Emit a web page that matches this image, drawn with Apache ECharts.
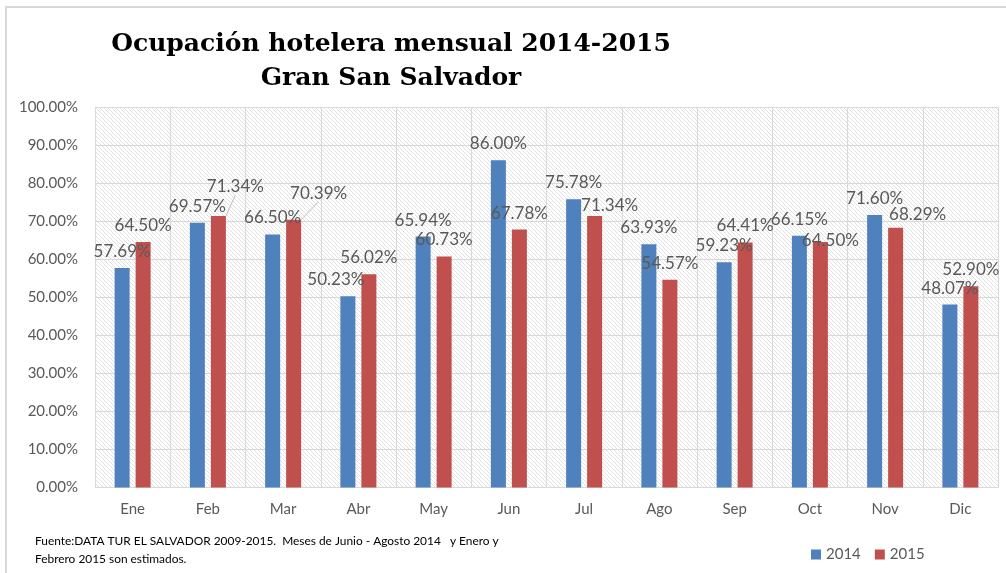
<!DOCTYPE html>
<html>
<head>
<meta charset="utf-8">
<script src="https://cdn.jsdelivr.net/npm/echarts@6/dist/echarts.min.js"></script>
<style>
  html, body { margin: 0; padding: 0; background: #fff; }
  #chart { width: 1006px; height: 573px; }
</style>
</head>
<body>
<div id="chart"></div>
<script>
// datos
const meses = ["Ene", "Feb", "Mar", "Abr", "May", "Jun", "Jul", "Ago", "Sep", "Oct", "Nov", "Dic"];
const ocup2014 = [57.69, 69.57, 66.50, 50.23, 65.94, 86.00, 75.78, 63.93, 59.23, 66.15, 71.60, 48.07];
const ocup2015 = [64.50, 71.34, 70.39, 56.02, 60.73, 67.78, 71.34, 54.57, 64.41, 64.50, 68.29, 52.90];
const ticksY = [0, 10, 20, 30, 40, 50, 60, 70, 80, 90, 100];

// etiquetas movidas a mano (como en Excel)
const mover2014 = { 3: [-12, 0] };
const mover2015 = { 1: [17, -13], 2: [25, -10], 6: [15, 6], 9: [10, 15], 10: [22, 3] };
const conGuia2015 = [1, 2];

// patron de rayas del fondo
const tile = document.createElement("canvas");
tile.width = 4;
tile.height = 4;
const tctx = tile.getContext("2d");
tctx.fillStyle = "#fff";
tctx.fillRect(0, 0, 4, 4);
tctx.fillStyle = "rgba(180,180,180,0.4)";
for (let i = 0; i < 4; i++) tctx.fillRect(i, i, 1, 1);

const chart = echarts.init(document.getElementById("chart"));

const gris = "#595959";
const fuente = "Lato";

const etiqueta = {
  show: true,
  position: "top",
  distance: 8,
  color: gris,
  fontFamily: fuente,
  fontSize: 17,
  formatter: (p) => p.value.toFixed(2) + "%"
};

const mover = (tabla) => (params) => {
  const m = tabla[params.dataIndex];
  return m ? { dx: m[0], dy: m[1] } : {};
};

const option = {
  animation: false,
  backgroundColor: "#fff",
  title: [
    {
      text: "Ocupación hotelera mensual 2014-2015\nGran San Salvador",
      left: 386,
      top: 22,
      textAlign: "center",
      textStyle: {
        fontFamily: "DejaVu Serif",
        fontWeight: "bold",
        fontSize: 25,
        lineHeight: 34,
        color: "#000"
      }
    },
    {
      text: "Fuente:DATA TUR EL SALVADOR 2009-2015.  Meses de Junio - Agosto 2014   y Enero y\nFebrero 2015 son estimados.",
      left: 35,
      top: 532,
      padding: 0,
      textStyle: {
        fontFamily: fuente,
        fontWeight: "normal",
        fontSize: 11.9,
        lineHeight: 18,
        color: "#000"
      }
    }
  ],
  graphic: [
    {
      type: "rect",
      silent: true,
      shape: { x: 6, y: 7, width: 1010, height: 580 },
      style: { fill: "none", stroke: "#d9d9d9", lineWidth: 2 }
    }
  ],
  legend: {
    left: 806,
    top: 542,
    itemWidth: 10,
    itemHeight: 10,
    itemGap: 14,
    icon: "rect",
    textStyle: { color: gris, fontFamily: fuente, fontSize: 15 },
    data: ["2014", "2015"]
  },
  grid: {
    left: 95,
    right: 8,
    top: 107,
    bottom: 85.5,
    show: true,
    borderWidth: 0,
    backgroundColor: { image: tile, repeat: "repeat" }
  },
  xAxis: {
    type: "category",
    data: meses,
    axisTick: { show: false },
    axisLine: { lineStyle: { color: "#d9d9d9" } },
    axisLabel: { color: gris, fontFamily: fuente, fontSize: 15, margin: 14 },
    splitLine: { show: true, lineStyle: { color: "#d9d9d9" } }
  },
  yAxis: {
    type: "value",
    min: ticksY[0],
    max: ticksY[ticksY.length - 1],
    interval: 10,
    axisLine: { show: false },
    axisTick: { show: false },
    axisLabel: {
      color: gris,
      fontFamily: fuente,
      fontSize: 15,
      margin: 17,
      formatter: (v) => v.toFixed(2) + "%"
    },
    splitLine: { lineStyle: { color: "#d9d9d9" } }
  },
  series: [
    {
      name: "2014",
      type: "bar",
      data: ocup2014,
      barWidth: 15,
      barGap: "40%",
      itemStyle: { color: "#4f81bd" },
      label: etiqueta,
      labelLayout: mover(mover2014)
    },
    {
      name: "2015",
      type: "bar",
      data: ocup2015.map((v, i) =>
        conGuia2015.includes(i) ? { value: v, labelLine: { show: true } } : v
      ),
      barWidth: 15,
      itemStyle: { color: "#c0504d" },
      label: etiqueta,
      labelLine: { show: false, lineStyle: { color: "#bfbfbf", width: 1 } },
      labelLayout: mover(mover2015)
    }
  ]
};

chart.setOption(option);
</script>
</body>
</html>
